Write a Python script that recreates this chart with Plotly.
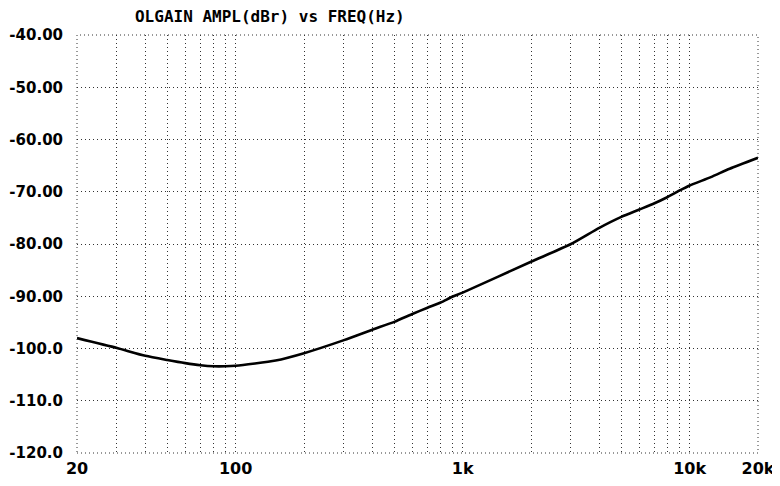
import plotly.graph_objects as go

# Data
freq_hz = [20, 30, 40, 50, 60, 70, 80, 90, 100, 150, 200, 300, 400, 500, 600, 700,
           800, 900, 1000, 2000, 3000, 4000, 5000, 6000, 7000, 8000, 9000, 10000,
           12400, 15000, 20000]
gain_dbr = [-98.0, -99.9, -101.4, -102.2, -102.8, -103.2, -103.4, -103.4, -103.3,
            -102.3, -100.9, -98.4, -96.4, -94.9, -93.4, -92.2, -91.2, -90.1, -89.3,
            -83.4, -80.0, -76.9, -74.8, -73.4, -72.2, -71.0, -69.8, -68.8, -67.2,
            -65.6, -63.5]

x_grid_vals = [20, 30, 40, 50, 60, 70, 80, 90,
               100, 200, 300, 400, 500, 600, 700, 800, 900,
               1000, 2000, 3000, 4000, 5000, 6000, 7000, 8000, 9000,
               10000, 20000]
x_tick_labels = {20: "20", 100: "100", 1000: "1k", 10000: "10k", 20000: "20k"}
y_tick_vals = [-120, -110, -100, -90, -80, -70, -60, -50, -40]
y_tick_text = ["-120.0", "-110.0", "-100.0", "-90.00", "-80.00", "-70.00",
               "-60.00", "-50.00", "-40.00"]
title_text = "OLGAIN AMPL(dBr) vs FREQ(Hz)"

GRID_DASH = "1px,3px"
GRID_COLOR = "#333333"

fig = go.Figure()
fig.add_trace(go.Scatter(
    x=freq_hz, y=gain_dbr, mode="lines",
    line=dict(color="black", width=2.6, shape="spline", smoothing=0.6),
    showlegend=False, hoverinfo="skip",
))

grid_style = dict(showgrid=True, gridcolor=GRID_COLOR, gridwidth=1,
                  griddash=GRID_DASH, zeroline=False, showline=False,
                  automargin=False)

# dotted frame around the plot area (edge grid lines)
fig.add_shape(type="rect", xref="paper", yref="paper", x0=0, x1=1, y0=0, y1=1,
              line=dict(color=GRID_COLOR, width=1, dash=GRID_DASH), layer="below")

# page body has an 8px default margin, so the figure is 8px smaller each way
fig.update_layout(
    width=772, height=478,
    margin=dict(l=69, r=22, t=27, b=33, autoexpand=False),
    paper_bgcolor="white", plot_bgcolor="white",
    title=dict(text=title_text, x=0.1645, xanchor="left", y=0.982, yanchor="middle",
               font=dict(family="DejaVu Sans Mono", size=16, color="black",
                         weight="bold")),
    xaxis=dict(type="log", range=[1.30103, 4.30103],
               tickmode="array", tickvals=x_grid_vals,
               ticktext=[x_tick_labels.get(v, "") for v in x_grid_vals],
               ticks="outside", ticklen=1, tickcolor="rgba(0,0,0,0)",
               tickfont=dict(family="DejaVu Sans", size=16, color="black",
                             weight="bold"),
               **grid_style),
    yaxis=dict(range=[-120, -40], tickmode="array", tickvals=y_tick_vals,
               ticktext=y_tick_text,
               ticks="outside", ticklen=10, tickcolor="rgba(0,0,0,0)",
               tickfont=dict(family="DejaVu Sans", size=15, color="black",
                             weight="bold"),
               **grid_style),
)

fig.write_html("out.html")
